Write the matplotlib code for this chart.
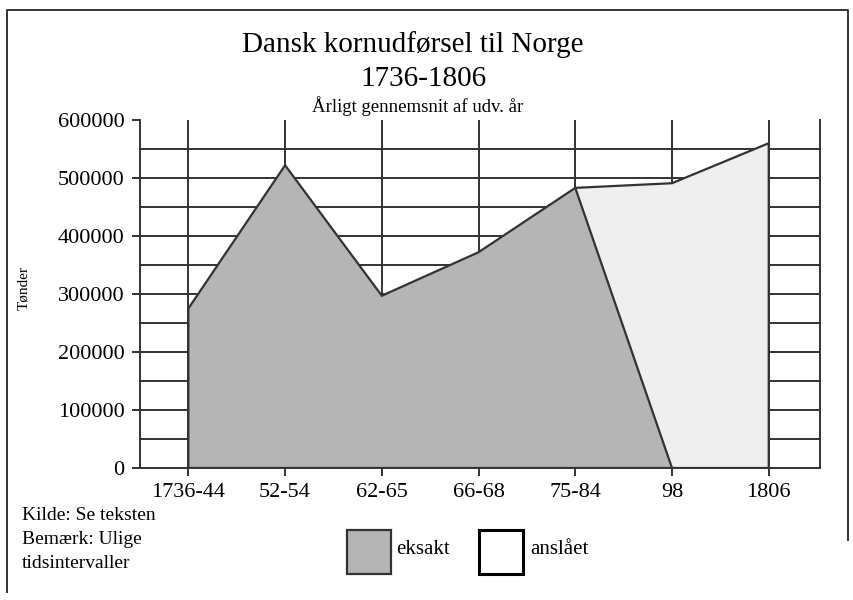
import matplotlib
matplotlib.use("Agg")
import matplotlib.pyplot as plt
from matplotlib.patches import Rectangle
from matplotlib.lines import Line2D

plt.rcParams['font.family'] = ['Liberation Serif', 'DejaVu Serif']

# data (tonnes per year, average)
periods = ['1736-44', '52-54', '62-65', '66-68', '75-84', '98', '1806']
exact = [275000, 522000, 297000, 372000, 483000, 0]      # "eksakt", ends at 98
estimated = [483000, 491000, 560000]                      # "anslået", 75-84 .. 1806
yticks = [0, 100000, 200000, 300000, 400000, 500000, 600000]
grid_y = [50000, 100000, 150000, 200000, 250000, 300000, 350000, 400000, 450000, 500000, 550000]

W, H = 854, 600
fig = plt.figure(figsize=(W / 100, H / 100), dpi=100)

def fx(x):
    return x / W

def fy(y):
    return 1 - y / H

ax = fig.add_axes([fx(140), fy(468), fx(820) - fx(140), fy(120) - fy(468)])

edge = '#333333'
n = len(periods)

# grid behind the areas
ax.hlines(grid_y, -0.5, n - 0.47, color=edge, lw=1.4, zorder=1)
ax.vlines(range(n), 0, 600000, color=edge, lw=1.4, zorder=1)

# estimated area (light)
ex_x = list(range(n - len(estimated), n))
ax.fill([ex_x[0]] + ex_x + [ex_x[-1]], [0] + estimated + [0],
        facecolor='#efefef', edgecolor=edge, lw=1.6, zorder=2)

# exact area (grey)
x_exact = list(range(len(exact)))
ax.fill([0] + x_exact, [0] + exact, facecolor='#b5b5b5', edgecolor=edge, lw=1.6, zorder=3)

ax.set_xlim(-0.5, n - 0.47)
ax.set_ylim(0, 600000)
ax.set_xticks(range(n))
ax.set_xticklabels(periods)
ax.set_yticks(yticks)
ax.set_yticklabels([str(v) for v in yticks])
ax.tick_params(axis='both', labelsize=16, colors=edge, length=6, width=1.4, labelcolor='black')
ax.tick_params(axis='x', pad=5)
ax.tick_params(axis='y', pad=5)
ax.spines['top'].set_visible(False)
for s in ['left', 'bottom', 'right']:
    ax.spines[s].set_color(edge)
    ax.spines[s].set_linewidth(1.4)

fig.text(fx(24), fy(288), 'Tønder', fontsize=11, rotation=90, ha='center', va='center')

# titles
fig.text(fx(413), fy(45), 'Dansk kornudførsel til Norge', fontsize=21, ha='center', va='center')
fig.text(fx(424), fy(79), '1736-1806', fontsize=21, ha='center', va='center')
fig.text(fx(418), fy(106), 'Årligt gennemsnit af udv. år', fontsize=13.5, ha='center', va='center')

# notes
fig.text(fx(22), fy(515), 'Kilde: Se teksten', fontsize=14, ha='left', va='center')
fig.text(fx(22), fy(540), 'Bemærk: Ulige', fontsize=14, ha='left', va='center')
fig.text(fx(22), fy(564), 'tidsintervaller', fontsize=14, ha='left', va='center')

# legend
fig.add_artist(Rectangle((fx(347), fy(574)), fx(44), 44 / H, transform=fig.transFigure,
                         facecolor='#b5b5b5', edgecolor=edge, lw=1.6))
fig.text(fx(396), fy(550), 'eksakt', fontsize=15, ha='left', va='center')
fig.add_artist(Rectangle((fx(479), fy(574)), fx(44), 44 / H, transform=fig.transFigure,
                         facecolor='white', edgecolor='black', lw=2.2))
fig.text(fx(530), fy(550), 'anslået', fontsize=15, ha='left', va='center')

# frame: left, top, part of right (scan shows no bottom edge)
fig.add_artist(Line2D([fx(7), fx(7), fx(848), fx(848)], [fy(592), fy(10), fy(10), fy(540)],
                      transform=fig.transFigure, color=edge, lw=1.4))

fig.savefig('out.png', dpi=100)
